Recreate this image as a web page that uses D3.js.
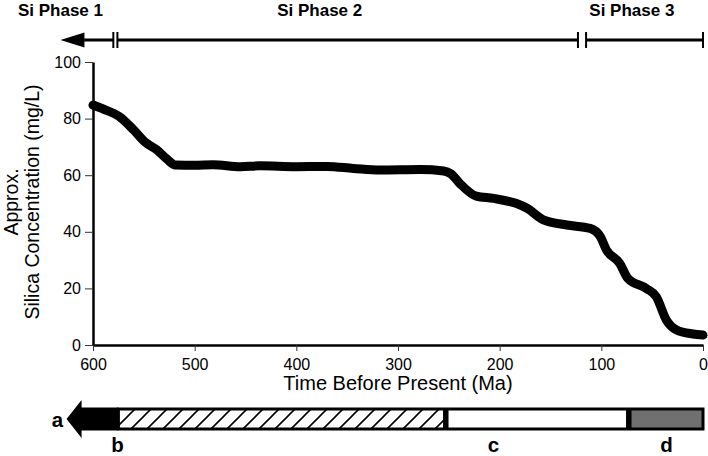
<!DOCTYPE html>
<html>
<head>
<meta charset="utf-8">
<script src="https://cdn.jsdelivr.net/npm/d3@7"></script>
<style>
  body { margin: 0; background: #fff; }
  svg { display: block; font-family: "Liberation Sans", Arial, sans-serif; }
</style>
</head>
<body>
<svg id="chart" width="708" height="456"></svg>
<script>
// curve readings (Ma before present, mg/L)
const ages = [600, 590, 574, 560, 549, 537, 527, 519, 500, 482, 455, 436, 400, 370, 344, 318, 278, 255, 248, 239, 223, 206, 180, 173, 157, 134, 111, 101, 95, 82, 74, 56, 46, 36, 26, 10, 0];
const silica = [84.8, 83.4, 80.7, 76, 71.8, 68.9, 65.6, 63.6, 63.5, 63.7, 63, 63.3, 63, 63.1, 62.4, 61.8, 62, 61.5, 60.5, 57, 52.6, 51.8, 49.5, 48.3, 44.2, 42.4, 41.2, 38.3, 33.6, 28.9, 23.6, 20, 17.1, 8.8, 5.3, 3.9, 3.5];

const xTicks = [600, 500, 400, 300, 200, 100, 0];
const yTicks = [0, 20, 40, 60, 80, 100];

// Si phases at the top
const phaseNames = ["Si Phase 1", "Si Phase 2", "Si Phase 3"];
const phaseStart = [632, 576, 115];   // phase 1 starts with an arrow
const phaseEnd = [580, 123, 0];
const phaseLabelAt = [632, 377, 70];

// bottom bar segments
const segNames = ["a", "b", "c", "d"];
const segStart = [626, 575, 253, 73];
const segEnd = [575, 253, 73, 0];
const segLabelAt = [635, 576, 206, 36];

const svg = d3.select("#chart");

const x = d3.scaleLinear().domain([600, 0]).range([93, 703]);
const y = d3.scaleLinear().domain([0, 100]).range([345, 62]);

// hatch pattern
svg.append("defs").append("pattern")
    .attr("id", "hatch")
    .attr("patternUnits", "userSpaceOnUse")
    .attr("width", 16).attr("height", 16)
    .append("path")
    .attr("d", "M-4,20 L20,-4 M-4,4 L4,-4 M12,20 L20,12")
    .attr("stroke", "#000")
    .attr("stroke-width", 1.6);

// axes
const xAxis = svg.append("g")
    .attr("transform", "translate(0," + y(0) + ")")
    .call(d3.axisBottom(x).tickValues(xTicks).tickSize(6).tickPadding(8).tickSizeOuter(0));
const yAxis = svg.append("g")
    .attr("transform", "translate(" + x(600) + ",0)")
    .call(d3.axisLeft(y).tickValues(yTicks).tickSize(8).tickPadding(4).tickSizeOuter(0));

[xAxis, yAxis].forEach(g => {
    g.select(".domain").attr("stroke", "#000").attr("stroke-width", 2.5);
    g.selectAll(".tick line").attr("stroke", "#333").attr("stroke-width", 1);
    g.selectAll(".tick text")
        .attr("fill", "#000")
        .style("font-size", "16px")
        .style("font-family", "'Liberation Sans', Arial, sans-serif");
});

// axis titles
svg.append("text")
    .attr("x", 398).attr("y", 390)
    .attr("text-anchor", "middle")
    .style("font-size", "20px")
    .text("Time Before Present (Ma)");

const yTitle = svg.append("text")
    .attr("transform", "translate(18,202) rotate(-90)")
    .attr("text-anchor", "middle")
    .style("font-size", "19.5px");
yTitle.append("tspan").attr("x", 0).attr("dy", 0).text("Approx.");
yTitle.append("tspan").attr("x", 0).attr("dy", 21).text("Silica Concentration (mg/L)");

// silica curve
const points = ages.map((a, i) => [a, silica[i]]);
svg.append("path")
    .datum(points)
    .attr("d", d3.line().x(d => x(d[0])).y(d => y(d[1])).curve(d3.curveMonotoneX))
    .attr("fill", "none")
    .attr("stroke", "#000")
    .attr("stroke-width", 9)
    .attr("stroke-linecap", "round")
    .attr("stroke-linejoin", "round");

// top phase lines
const py = 40;
const phases = svg.append("g");
phaseNames.forEach((name, i) => {
    const x0 = x(phaseStart[i]), x1 = x(phaseEnd[i]);
    if (i === 0) {
        phases.append("line")
            .attr("x1", x0 + 20).attr("x2", x1).attr("y1", py).attr("y2", py)
            .attr("stroke", "#000").attr("stroke-width", 3);
        phases.append("path")
            .attr("d", `M${x0},${py} L${x0 + 24},${py - 7.5} L${x0 + 24},${py + 7.5} Z`)
            .attr("fill", "#000");
    } else {
        phases.append("line")
            .attr("x1", x0).attr("x2", x1).attr("y1", py).attr("y2", py)
            .attr("stroke", "#000").attr("stroke-width", 3);
        phases.append("line")
            .attr("x1", x0).attr("x2", x0).attr("y1", py - 8).attr("y2", py + 8)
            .attr("stroke", "#000").attr("stroke-width", 2);
    }
    phases.append("line")
        .attr("x1", x1).attr("x2", x1).attr("y1", py - 8).attr("y2", py + 8)
        .attr("stroke", "#000").attr("stroke-width", 2);
    phases.append("text")
        .attr("x", x(phaseLabelAt[i])).attr("y", 16)
        .attr("text-anchor", "middle")
        .style("font-size", "17px")
        .style("font-weight", "bold")
        .text(name);
});

// bottom bar
const by0 = 409, by1 = 429, bmid = (by0 + by1) / 2;
const bar = svg.append("g");
const fills = [null, "url(#hatch)", "#fff", "#707070"];
segNames.forEach((name, i) => {
    if (i > 0) {
        bar.append("rect")
            .attr("x", x(segStart[i])).attr("y", by0)
            .attr("width", x(segEnd[i]) - x(segStart[i])).attr("height", by1 - by0)
            .attr("fill", fills[i]);
    }
});
// outer border of b..d
bar.append("rect")
    .attr("x", x(segStart[1])).attr("y", by0)
    .attr("width", x(segEnd[3]) - x(segStart[1])).attr("height", by1 - by0)
    .attr("fill", "none").attr("stroke", "#000").attr("stroke-width", 3);
// dividers
[segStart[2], segStart[3]].forEach(a => {
    bar.append("line")
        .attr("x1", x(a)).attr("x2", x(a)).attr("y1", by0).attr("y2", by1)
        .attr("stroke", "#000").attr("stroke-width", 5.5);
});
// arrow a
const ax0 = x(segStart[0]), ax1 = x(segEnd[0]);
bar.append("path")
    .attr("d", `M${ax0},${bmid} L${ax0 + 15},${bmid - 19} L${ax0 + 15},${by0 - 1.5} L${ax1},${by0 - 1.5} L${ax1},${by1 + 1.5} L${ax0 + 15},${by1 + 1.5} L${ax0 + 15},${bmid + 19} Z`)
    .attr("fill", "#000");

// segment labels
segNames.forEach((name, i) => {
    bar.append("text")
        .attr("x", x(segLabelAt[i]))
        .attr("y", i === 0 ? bmid + 8 : 451.5)
        .attr("text-anchor", "middle")
        .style("font-size", "20.5px")
        .style("font-weight", "bold")
        .text(name);
});
</script>
</body>
</html>
